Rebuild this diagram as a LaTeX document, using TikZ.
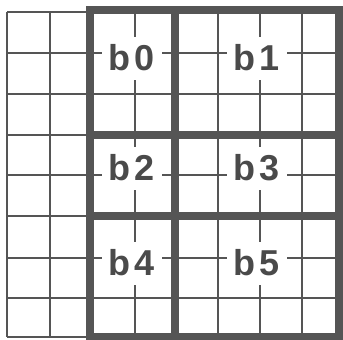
\documentclass[tikz,border=0pt]{standalone}
\usepackage{fontspec}
\newfontfamily\labfont{Liberation Sans}
\definecolor{ink}{HTML}{555555}
\definecolor{txt}{HTML}{4A4A4A}
\newcommand{\blab}[2]{#1\kern4pt#2}
\begin{document}
\begin{tikzpicture}[x=1pt,y=-1pt,
  thin line/.style={draw=ink,line width=2pt},
  thick line/.style={draw=ink,line width=8.5pt},
  blocklabel/.style={fill=white,text=txt,inner sep=0pt,minimum width=60pt,minimum height=43pt,
    font=\labfont\bfseries\fontsize{36}{36}\selectfont}]
\useasboundingbox (0,0) rectangle (343,340);
% left thin grid
\foreach \x in {7,50} \draw[thin line] (\x,12) -- (\x,337);
\foreach \y in {12,53,94,135,175,216,258,298,337} \draw[thin line] (7,\y) -- (90,\y);
% inner thin lines of blocks
\foreach \x in {135,218,260,302} \draw[thin line] (\x,10) -- (\x,337);
\foreach \y in {53,94,175,258,298} \draw[thin line] (90,\y) -- (339,\y);
% labels
\node[blocklabel] (b0) at (132,58) {\blab{b}{0}};
\node[blocklabel] (b1) at (257,58) {\blab{b}{1}};
\node[blocklabel] (b2) at (132,168) {\blab{b}{2}};
\node[blocklabel] (b3) at (257,168) {\blab{b}{3}};
\node[blocklabel] (b4) at (132,263) {\blab{b}{4}};
\node[blocklabel] (b5) at (257,263) {\blab{b}{5}};
% thick block borders
\draw[thick line] (90,10) rectangle (339,337);
\draw[thick line] (175,10) -- (175,337);
\draw[thick line] (90,135) -- (339,135);
\draw[thick line] (90,216) -- (339,216);
\end{tikzpicture}
\end{document}
